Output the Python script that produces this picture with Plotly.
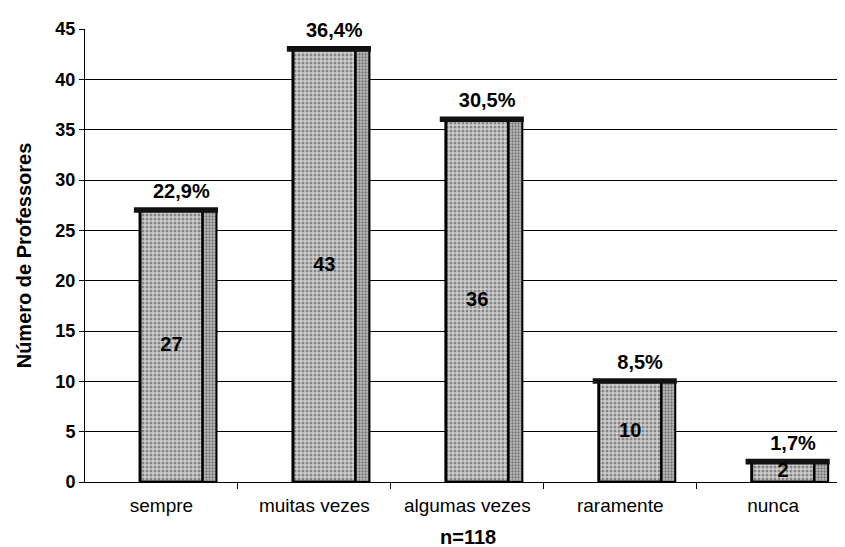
import plotly.graph_objects as go

categories = ["sempre", "muitas vezes", "algumas vezes", "raramente", "nunca"]
values = [27, 43, 36, 10, 2]
pct_labels = ["22,9%", "36,4%", "30,5%", "8,5%", "1,7%"]
y_ticks = [0, 5, 10, 15, 20, 25, 30, 35, 40, 45]
x_title = "n=118"

idx = list(range(len(categories)))
FONT = "Arial, Liberation Sans, sans-serif"

fig = go.Figure()

# front face
fig.add_trace(go.Bar(
    x=idx, y=values, width=0.41, offset=-0.14,
    marker=dict(color="#c8c8c8",
                line=dict(color="black", width=3),
                pattern=dict(shape=".", fgcolor="#3a3a3a", bgcolor="#d0d0d0",
                             size=4, solidity=0.45)),
    hoverinfo="skip", showlegend=False))

# side face
fig.add_trace(go.Bar(
    x=idx, y=values, width=0.09, offset=0.27,
    marker=dict(color="#b0b0b0",
                line=dict(color="black", width=2),
                pattern=dict(shape=".", fgcolor="#2a2a2a", bgcolor="#bdbdbd",
                             size=3, solidity=0.45)),
    hoverinfo="skip", showlegend=False))

# top cap
fig.add_trace(go.Bar(
    x=idx, y=[0.55] * len(values), base=[v - 0.25 for v in values],
    width=0.55, offset=-0.18,
    marker=dict(color="#111111", line=dict(width=0)),
    hoverinfo="skip", showlegend=False))

# value labels inside
fig.add_trace(go.Scatter(
    x=[i + 0.065 for i in idx], y=[v / 2 for v in values],
    mode="text", text=[str(v) for v in values],
    textfont=dict(family=FONT, size=20, color="black", weight="bold"),
    hoverinfo="skip", showlegend=False, cliponaxis=False))

# percentage labels above
fig.add_trace(go.Scatter(
    x=[i + 0.13 for i in idx], y=[v + 1.7 for v in values],
    mode="text", text=pct_labels,
    textfont=dict(family=FONT, size=20, color="black", weight="bold"),
    hoverinfo="skip", showlegend=False, cliponaxis=False))

fig.update_layout(
    width=837, height=539,
    margin=dict(l=77, r=0, t=21, b=65, autoexpand=False),
    paper_bgcolor="white", plot_bgcolor="white",
    barmode="overlay",
    font=dict(family=FONT, color="black"),
    annotations=[dict(text="<b>" + x_title + "</b>", xref="paper", yref="paper",
                      x=0.5, y=0, xanchor="center", yanchor="middle",
                      xshift=3, yshift=-55, showarrow=False,
                      font=dict(family=FONT, size=20, color="black"))],
)

fig.update_xaxes(
    range=[-0.5, 4.47],
    tickmode="array", tickvals=idx, ticktext=categories,
    ticks="", tickfont=dict(family=FONT, size=19),
    ticklabelstandoff=6,
    showline=True, linecolor="black", linewidth=1,
    showgrid=False, zeroline=False, automargin=False,
    minor=dict(tickmode="array", tickvals=[0.5, 1.5, 2.5, 3.5],
               ticks="outside", ticklen=6, tickcolor="black", tickwidth=1),
)

fig.update_yaxes(
    range=[0, 45],
    tickmode="array", tickvals=y_ticks,
    ticks="outside", ticklen=5, tickcolor="black",
    tickfont=dict(family=FONT, size=18, weight="bold"),
    showline=True, linecolor="black", linewidth=1,
    showgrid=True, gridcolor="black", gridwidth=1,
    zeroline=False, automargin=False,
    title=dict(text="<b>Número de Professores</b>", font=dict(family=FONT, size=20), standoff=18),
)

fig.write_html("out.html")
